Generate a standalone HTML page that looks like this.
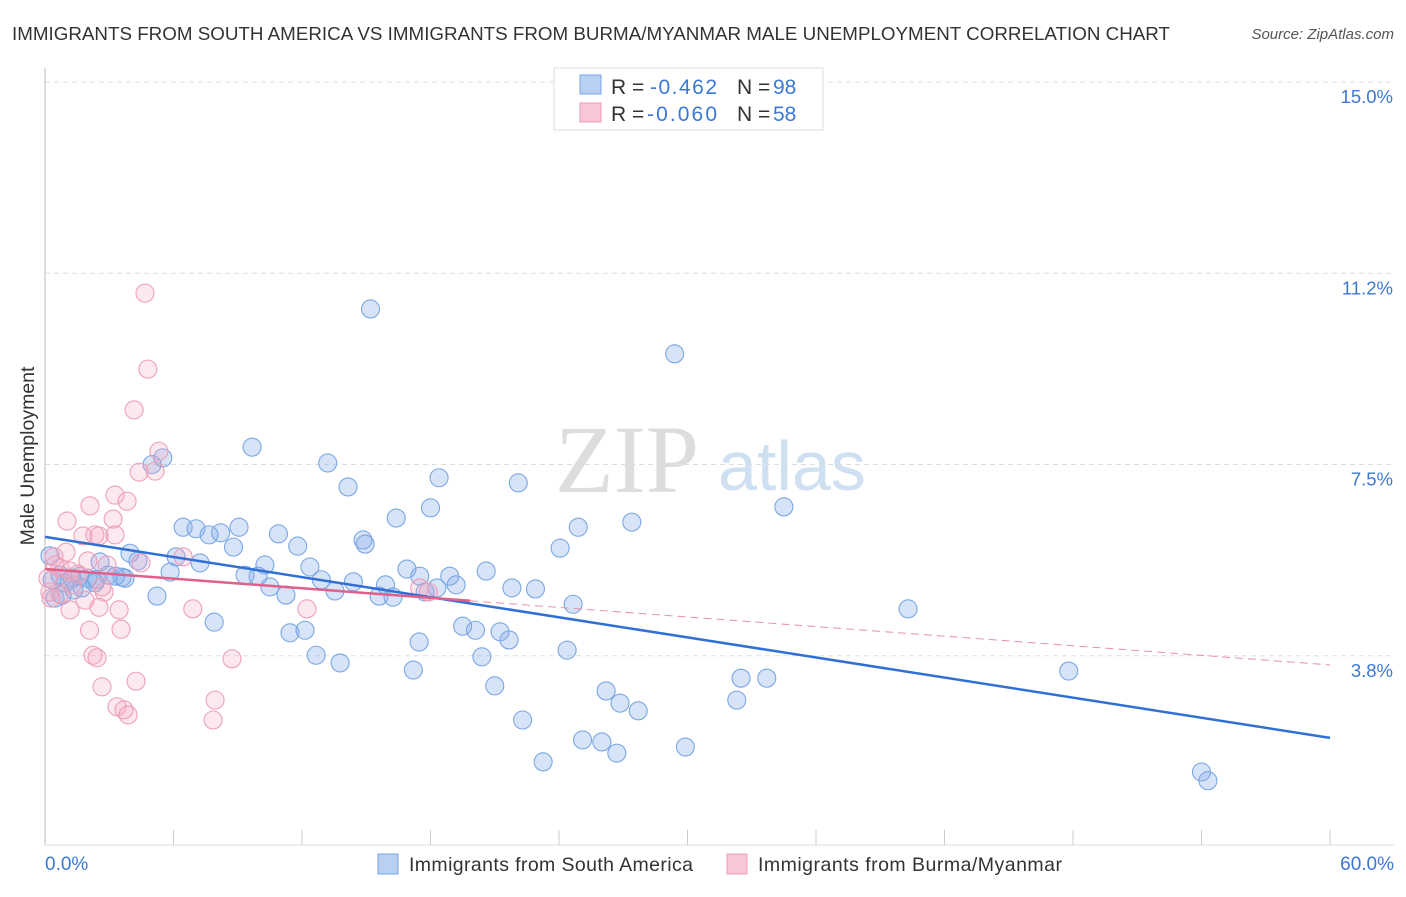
<!DOCTYPE html>
<html><head><meta charset="utf-8"><style>
body{margin:0;background:#fff;font-family:"Liberation Sans",sans-serif}
</style></head><body>
<svg width="1406" height="892" xmlns="http://www.w3.org/2000/svg" id="chart" font-family="Liberation Sans, sans-serif">
<text x="12" y="40" font-size="18.5" fill="#333" textLength="1158" lengthAdjust="spacingAndGlyphs">IMMIGRANTS FROM SOUTH AMERICA VS IMMIGRANTS FROM BURMA/MYANMAR MALE UNEMPLOYMENT CORRELATION CHART</text>
<text x="1394" y="39" font-size="15" fill="#555" font-style="italic" text-anchor="end">Source: ZipAtlas.com</text>
<text x="555" y="492" font-size="96" fill="#ddd" font-family="Liberation Serif, serif">ZIP</text>
<text x="718" y="490" font-size="70" fill="#cfe0f3">atlas</text>
<g id="grid"></g>
<g id="marks"></g>
<text transform="translate(34,456) rotate(-90)" font-size="19.5" fill="#333" text-anchor="middle">Male Unemployment</text>
<text x="45" y="870" font-size="19" fill="#3b78d8">0.0%</text>
<text x="1394" y="870" font-size="19" fill="#3b78d8" text-anchor="end">60.0%</text>
<g>
<rect x="554" y="68" width="269" height="62" fill="#fff" stroke="#ddd"/>
<rect x="580" y="75" width="21" height="19" fill="#b7d0f3" stroke="#7aa5e4"/>
<rect x="580" y="103" width="21" height="19" fill="#f9c6d5" stroke="#ec9db5"/>
<g font-size="21" fill="#333">
<text x="611" y="94">R =</text>
<text x="650" y="94" fill="#3b78d8" textLength="67">-0.462</text>
<text x="737" y="94">N =</text>
<text x="773" y="94" fill="#3b78d8">98</text>
<text x="611" y="121">R =</text>
<text x="647" y="121" fill="#3b78d8" textLength="70">-0.060</text>
<text x="737" y="121">N =</text>
<text x="773" y="121" fill="#3b78d8">58</text>
</g>
</g>
<g>
<rect x="378" y="854" width="20" height="20" fill="#b7d0f3" stroke="#7aa5e4"/>
<text x="409" y="871" font-size="19.5" fill="#333" textLength="284">Immigrants from South America</text>
<rect x="727" y="854" width="20" height="20" fill="#f9c6d5" stroke="#ec9db5"/>
<text x="758" y="871" font-size="19.5" fill="#333" textLength="304">Immigrants from Burma/Myanmar</text>
</g>
</svg>
<script>
const yTicks=[3.75,7.5,11.25,15];
const yTickLabels=["3.8%","7.5%","11.2%","15.0%"];
const blueX=[15.2,29.4,9.67,13.2,5.5,5.0,14.15,18.4,22.1,34.5,18.0,16.4,27.4,24.9,6.45,7.05,9.06,8.2,7.66,10.9,14.85,14.95,11.8,8.8,24.05,3.97,6.12,4.34,2.57,7.24,10.27,12.37,16.9,20.6,5.84,9.34,9.95,17.5,18.9,12.9,14.4,15.9,19.2,10.5,21.8,22.9,13.54,18.3,11.25,15.6,16.25,17.75,5.23,24.66,40.3,7.9,11.44,12.14,19.5,20.1,21.25,21.67,17.47,24.38,12.66,20.4,13.78,17.2,47.8,32.5,33.7,21.0,26.2,26.85,32.3,27.7,22.3,25.1,26.0,26.7,29.9,23.26,54.0,54.3,0.23,0.33,0.7,0.93,1.26,1.63,2.0,2.4,2.95,3.3,3.6,3.74,0.47,0.8,1.35,1.73,2.33];
const blueY=[10.55,9.67,7.84,7.53,7.63,7.5,7.06,7.24,7.14,6.67,6.65,6.45,6.37,6.27,6.27,6.24,6.27,6.16,6.12,6.14,6.02,5.94,5.9,5.88,5.86,5.76,5.69,5.61,5.59,5.57,5.53,5.49,5.45,5.41,5.39,5.33,5.31,5.31,5.31,5.24,5.2,5.14,5.14,5.1,5.08,5.06,5.02,5.08,4.94,4.92,4.9,5.0,4.92,4.76,4.67,4.41,4.2,4.25,4.33,4.25,4.22,4.06,4.02,3.86,3.76,3.73,3.61,3.47,3.45,3.31,3.31,3.16,3.06,2.82,2.88,2.67,2.49,2.1,2.06,1.84,1.96,1.67,1.47,1.3,5.71,5.24,5.33,5.18,5.27,5.31,5.27,5.24,5.33,5.31,5.29,5.27,4.88,4.94,5.04,5.08,5.18];
const pinkX=[4.67,4.8,4.16,5.32,5.14,4.4,3.27,3.83,2.1,1.03,3.18,1.77,2.33,2.52,3.27,0.98,0.42,2.0,2.9,4.48,6.45,0.47,0.7,1.17,1.54,0.14,1.26,2.66,17.5,17.9,0.23,0.7,2.76,0.28,1.87,2.52,1.17,3.46,6.9,12.23,2.08,3.55,2.24,2.43,8.73,4.25,2.66,7.94,3.36,3.69,3.88,7.85];
const pinkY=[10.86,9.37,8.57,7.76,7.37,7.35,6.9,6.78,6.69,6.39,6.43,6.1,6.12,6.1,6.12,5.78,5.69,5.61,5.53,5.57,5.69,5.53,5.47,5.41,5.35,5.27,5.14,5.1,5.08,5.0,5.0,4.96,5.0,4.88,4.84,4.7,4.65,4.65,4.67,4.67,4.25,4.27,3.76,3.71,3.69,3.25,3.14,2.88,2.75,2.69,2.59,2.49];
const blueTrend=[6.08,2.14];
const pinkTrend=[5.45,3.57];
const pinkSolidEnd=19.85;
const NS="http://www.w3.org/2000/svg";
const X0=45,X1=1330,Y15=82,PPU=51;
function sx(v){return X0+(v/60)*(X1-X0);}
function sy(v){return Y15+(15-v)*PPU;}
function mk(t,a,p){const e=document.createElementNS(NS,t);for(const k in a)e.setAttribute(k,a[k]);p.appendChild(e);return e;}
const grid=document.getElementById('grid'),marks=document.getElementById('marks'),svg=document.getElementById('chart');
yTicks.forEach((t,i)=>{
 const l=mk('line',{x1:X0,x2:1394,y1:sy(t),y2:sy(t),stroke:'#ddd','stroke-dasharray':'5,4'},grid);
 
 
 const tx=mk('text',{x:1393,y:sy(t)+21,'font-size':18.5,fill:'#3b78d8','text-anchor':'end'},svg);
 tx.textContent=yTickLabels[i];
 
 
});
const ax=mk('line',{x1:X0,x2:X0,y1:68,y2:845,stroke:'#bbb'},grid);


const bx=mk('line',{x1:X0,x2:1394,y1:845,y2:845,stroke:'#ddd'},grid);


for(let i=1;i<=10;i++){
 const t=mk('line',{x1:sx(i*6),x2:sx(i*6),y1:830,y2:845,stroke:'#ccc'},grid);
 
 
}
blueX.forEach((x,i)=>{
 const c=mk('circle',{cx:sx(x),cy:sy(blueY[i]),r:9,fill:'rgba(130,172,232,0.32)',stroke:'#7aa7e3','stroke-width':1.1},marks);
 
 
});
pinkX.forEach((x,i)=>{
 const c=mk('circle',{cx:sx(x),cy:sy(pinkY[i]),r:9,fill:'rgba(245,165,190,0.25)',stroke:'#ee9fb8','stroke-width':1.1},marks);
 
 
});
const bl=mk('line',{x1:sx(0),y1:sy(blueTrend[0]),x2:sx(60),y2:sy(blueTrend[1]),stroke:'#2f6fd6','stroke-width':2.5},marks);


const pm=pinkTrend[0]+(pinkTrend[1]-pinkTrend[0])*pinkSolidEnd/60;
const pl=mk('line',{x1:sx(0),y1:sy(pinkTrend[0]),x2:sx(pinkSolidEnd),y2:sy(pm),stroke:'#e0608a','stroke-width':2.5},marks);


const pd=mk('line',{x1:sx(pinkSolidEnd),y1:sy(pm),x2:sx(60),y2:sy(pinkTrend[1]),stroke:'#e890ac','stroke-width':1,'stroke-dasharray':'8,5'},marks);


</script>
</body></html>
